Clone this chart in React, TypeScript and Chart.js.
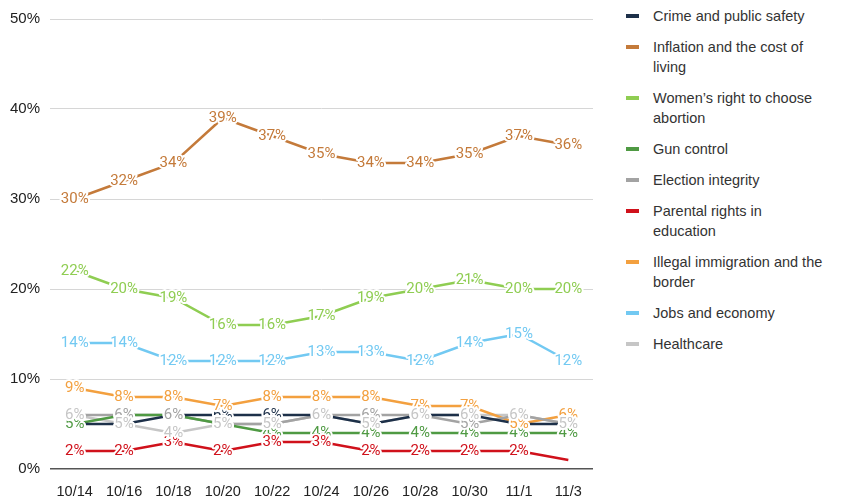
import React, { useEffect, useRef } from "react";
import { Chart, registerables } from "chart.js";

Chart.register(...registerables);

const categories = ["10/14", "10/16", "10/18", "10/20", "10/22", "10/24", "10/26", "10/28", "10/30", "11/1", "11/3"];
const yTicks = [0, 10, 20, 30, 40, 50];

const crime = [5, 5, 6, 6, 6, 6, 5, 6, 6, 5, 5];
const inflation = [30, 32, 34, 39, 37, 35, 34, 34, 35, 37, 36];
const womens = [22, 20, 19, 16, 16, 17, 19, 20, 21, 20, 20];
const gun = [5, 6, 6, 5, 4, 4, 4, 4, 4, 4, 4];
const election = [6, 6, 6, 5, 5, 6, 6, 6, 5, 6, 5];
const parental = [2, 2, 3, 2, 3, 3, 2, 2, 2, 2, 1];
const immigration = [9, 8, 8, 7, 8, 8, 8, 7, 7, 5, 6];
const jobs = [14, 14, 12, 12, 12, 13, 13, 12, 14, 15, 12];
const healthcare = [6, 5, 4, 5, 5, 6, 5, 6, 6, 6, 5];

const seriesNames = [
  "Crime and public safety",
  "Inflation and the cost of living",
  "Women’s right to choose abortion",
  "Gun control",
  "Election integrity",
  "Parental rights in education",
  "Illegal immigration and the border",
  "Jobs and economy",
  "Healthcare",
];
const legendLines = [
  ["Crime and public safety"],
  ["Inflation and the cost of", "living"],
  ["Women’s right to choose", "abortion"],
  ["Gun control"],
  ["Election integrity"],
  ["Parental rights in", "education"],
  ["Illegal immigration and the", "border"],
  ["Jobs and economy"],
  ["Healthcare"],
];
const seriesValues = [crime, inflation, womens, gun, election, parental, immigration, jobs, healthcare];
const colors = ["#1d3049", "#c47a3a", "#8fcd52", "#4f9a43", "#a3a3a3", "#d0111b", "#f3a03f", "#72c9f2", "#c6c6c6"];
// labels not shown in the reference
const hiddenLabels: Record<number, number[]> = { 5: [10] };

const labelPlugin = {
  id: "pointLabels",
  afterDatasetsDraw(chart: any) {
    const ctx = chart.ctx;
    ctx.save();
    ctx.font = "15px Roboto";
    ctx.textAlign = "center";
    ctx.textBaseline = "middle";
    chart.data.datasets.forEach((ds: any, di: number) => {
      const meta = chart.getDatasetMeta(di);
      meta.data.forEach((pt: any, i: number) => {
        if ((hiddenLabels[di] || []).includes(i)) return;
        const txt = ds.data[i] + "%";
        ctx.lineWidth = 4;
        ctx.lineJoin = "round";
        ctx.strokeStyle = "#ffffff";
        ctx.strokeText(txt, pt.x, pt.y);
        ctx.fillStyle = ds.borderColor;
        ctx.fillText(txt, pt.x, pt.y);
      });
    });
    ctx.restore();
  },
};

export default function App() {
  const ref = useRef<HTMLCanvasElement>(null);
  useEffect(() => {
    document.body.style.margin = "0";
    const chart = new Chart(ref.current!, {
      type: "line",
      data: {
        labels: categories,
        datasets: seriesValues.map((vals, i) => ({
          label: seriesNames[i],
          data: vals,
          borderColor: colors[i],
          backgroundColor: colors[i],
          borderWidth: 2.5,
          pointRadius: 0,
          tension: 0,
        })),
      },
      options: {
        animation: false,
        responsive: false,
        maintainAspectRatio: false,
        layout: { padding: { top: 4, right: 7, left: 0, bottom: 0 } },
        plugins: { legend: { display: false }, tooltip: { enabled: false } },
        scales: {
          x: {
            offset: true,
            grid: { display: false },
            border: { display: false },
            afterFit: (axis: any) => {
              axis.height = 29;
            },
            ticks: { color: "#222", font: { size: 14.5, family: "Liberation Sans" }, padding: 6, maxRotation: 0, autoSkip: false },
          },
          y: {
            min: 0,
            max: 50,
            afterBuildTicks: (axis: any) => {
              axis.ticks = yTicks.map((v) => ({ value: v }));
            },
            grid: {
              color: (c: any) => (c.tick && c.tick.value === 0 ? "#555" : "#d6d6d6"),
              lineWidth: (c: any) => (c.tick && c.tick.value === 0 ? 1.5 : 1),
              drawTicks: false,
            },
            border: { display: false },
            ticks: {
              color: "#222",
              font: { size: 15, family: "Liberation Sans" },
              padding: 10,
              callback: (v: any) => v + "%",
            },
          },
        },
      },
      plugins: [labelPlugin],
    });
    return () => chart.destroy();
  }, []);

  return (
    <div style={{ position: "relative", width: 844, height: 498, background: "#fff" }}>
      <canvas ref={ref} width={600} height={498} style={{ position: "absolute", left: 0, top: 0 }} />
      <div
        style={{
          position: "absolute",
          left: 626,
          top: 6,
          fontFamily: "Liberation Sans",
          fontSize: 14.5,
          color: "#333",
          lineHeight: "20px",
        }}
      >
        {legendLines.map((lines, i) => (
          <div key={i} style={{ display: "flex", alignItems: "flex-start", marginBottom: 11 }}>
            <div style={{ width: 13, height: 4, background: colors[i], marginTop: 8, marginRight: 14, flexShrink: 0 }} />
            <div>
              {lines.map((l, j) => (
                <div key={j}>{l}</div>
              ))}
            </div>
          </div>
        ))}
      </div>
    </div>
  );
}
